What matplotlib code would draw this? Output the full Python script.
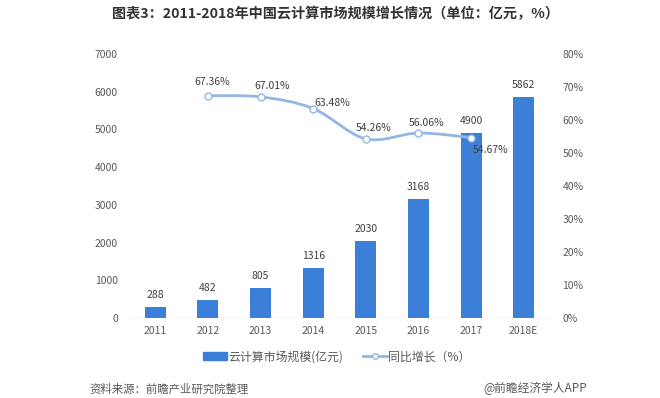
import numpy as np
import matplotlib.pyplot as plt
from matplotlib.path import Path
from matplotlib.patches import PathPatch, Patch
from matplotlib.lines import Line2D

plt.rcParams['font.family'] = ['Noto Sans CJK SC', 'DejaVu Sans']

years = ['2011', '2012', '2013', '2014', '2015', '2016', '2017', '2018E']
market = [288, 482, 805, 1316, 2030, 3168, 4900, 5862]
growth_years = ['2012', '2013', '2014', '2015', '2016', '2017']
growth = [67.36, 67.01, 63.48, 54.26, 56.06, 54.67]
# label offsets (pixels) for the growth labels, relative to each point
growth_offsets = [(4, 14), (12, 11), (19, 6), (8, 11), (8, 10), (19, -12)]

bar_color = '#3b7fd9'
line_color = '#94b6e4'
text_color = '#595959'

fig = plt.figure(figsize=(6.6, 3.98), dpi=100)
ax = fig.add_axes([129 / 660, 1 - 318 / 398, 421 / 660, 264 / 398])
ax2 = ax.twinx()

x = np.arange(len(years))
ax.bar(x, market, width=0.4, color=bar_color, zorder=2)
for xi, v in zip(x, market):
    ax.annotate(str(v), (xi, v), xytext=(0, 12), textcoords='offset pixels',
                ha='center', va='center', fontsize=7.5, color='#404040')

ax.set_xlim(-0.5, len(years) - 0.5)
ax.set_ylim(0, 7000)
ax.set_yticks(range(0, 7001, 1000))
ax.set_xticks(x)
ax.set_xticklabels(years)
ax2.set_ylim(0, 80)
ax2.set_yticks(range(0, 81, 10))
ax2.set_yticklabels([f'{t}%' for t in range(0, 81, 10)])

for a in (ax, ax2):
    for s in a.spines.values():
        s.set_visible(False)
    a.tick_params(length=0, labelsize=7.5, colors=text_color)
ax.tick_params(axis='y', pad=8)
ax.tick_params(axis='x', pad=6)
ax2.tick_params(axis='y', pad=9)
ax.axhline(0, color='#d9d9d9', lw=1, zorder=1)

# smooth growth line (cubic bezier through the data points)
gx = np.array([years.index(y) for y in growth_years], dtype=float)
gy = np.array(growth)
pts = np.column_stack([gx, gy])
verts = [pts[0]]
codes = [Path.MOVETO]
t = 0.16
for i in range(len(pts) - 1):
    p0 = pts[i - 1] if i > 0 else pts[i]
    p1 = pts[i]
    p2 = pts[i + 1]
    p3 = pts[i + 2] if i + 2 < len(pts) else pts[i + 1]
    c1 = p1 + (p2 - p0) * t
    c2 = p2 - (p3 - p1) * t
    verts += [c1, c2, p2]
    codes += [Path.CURVE4] * 3
ax2.add_patch(PathPatch(Path(verts, codes), fill=False, ec=line_color, lw=2, zorder=3))
ax2.plot(gx, gy, ls='none', marker='o', ms=5, mfc='white', mec=line_color, mew=1, zorder=4)
for xi, v, off in zip(gx, gy, growth_offsets):
    ax2.annotate(f'{v:.2f}%', (xi, v), xytext=off, textcoords='offset pixels',
                 ha='center', va='center', fontsize=7.5, color='#404040')

handles = [Patch(color=bar_color),
           Line2D([], [], color=line_color, lw=2, marker='o', ms=4, mfc='white', mec=line_color)]
fig.legend(handles, ['云计算市场规模(亿元)', '同比增长（%）'], loc='center',
           bbox_to_anchor=(337 / 660, 1 - 357 / 398), ncol=2, frameon=False,
           fontsize=8.6, labelcolor=text_color, handlelength=2.0, handleheight=0.6,
           handletextpad=0.15, columnspacing=1.6)

fig.text(336 / 660, 1 - 14 / 398, '图表3：2011-2018年中国云计算市场规模增长情况（单位：亿元，%）',
         ha='center', va='center', fontsize=10.2, fontweight='bold', color='#333333')
fig.text(89 / 660, 1 - 389 / 398, '资料来源：前瞻产业研究院整理', ha='left', va='center',
         fontsize=8.2, style='italic', color=text_color)
fig.text(587 / 660, 1 - 388 / 398, '@前瞻经济学人APP', ha='right', va='center',
         fontsize=8.5, color=text_color)

fig.savefig('out.png', dpi=100)
